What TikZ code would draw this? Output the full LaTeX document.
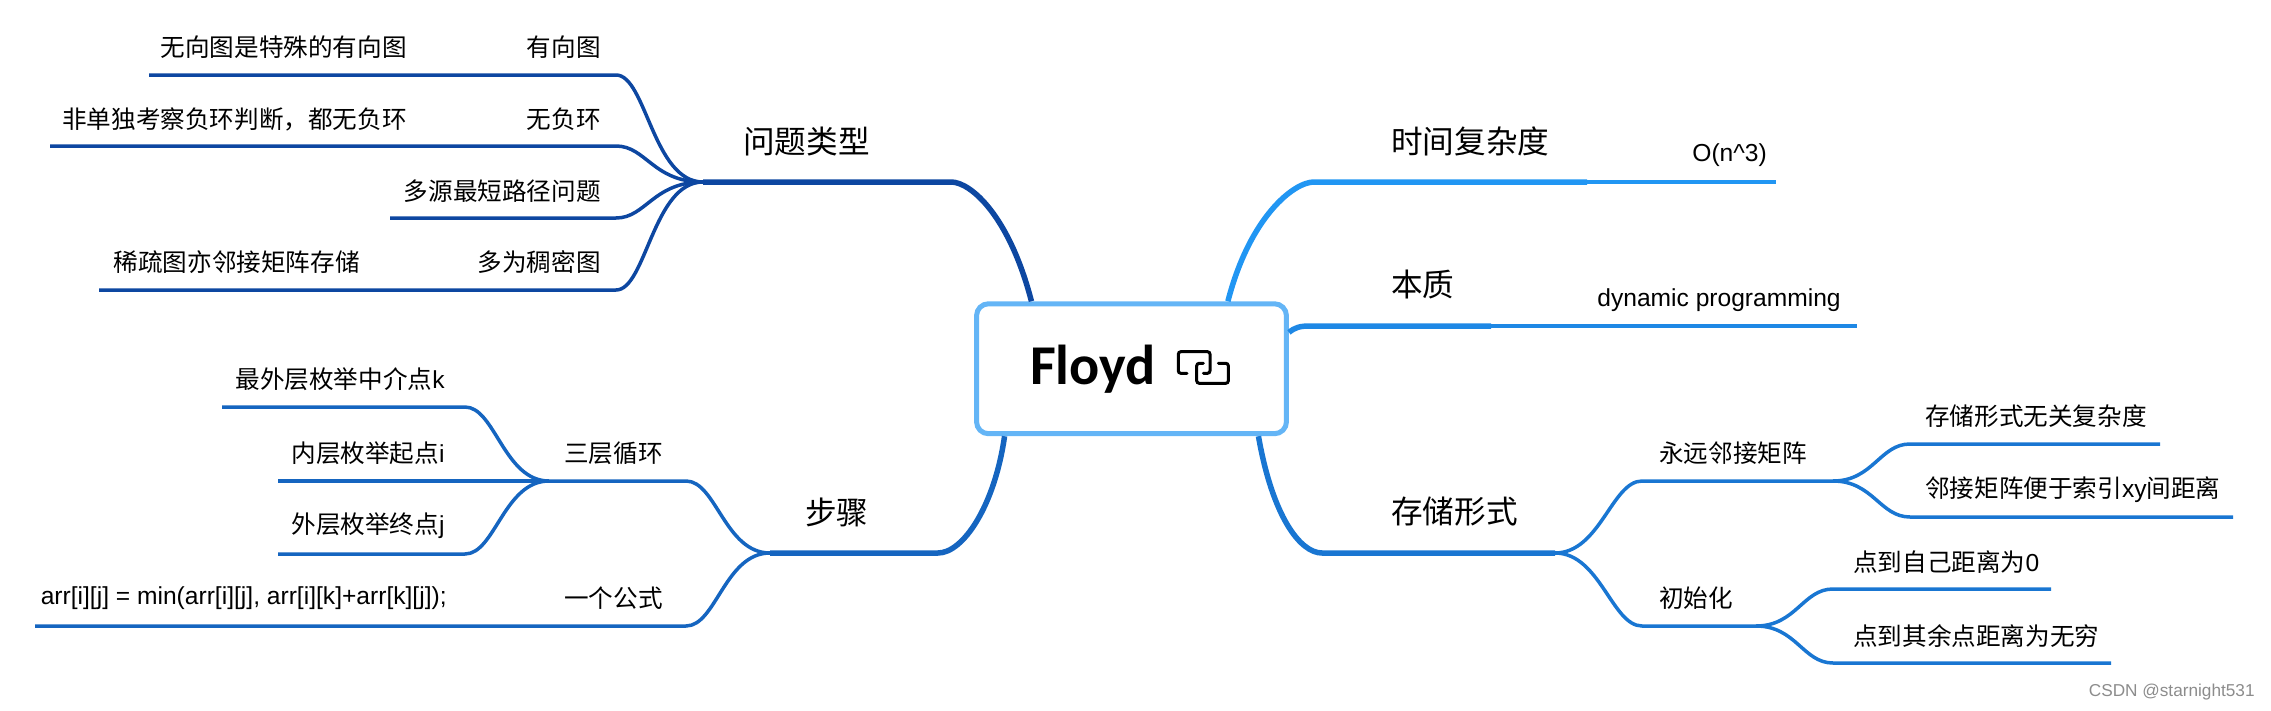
\documentclass[tikz,border=0pt]{standalone}
\usepackage{fontspec}
\setmainfont{Noto Sans CJK SC}
\newfontfamily\latinfont{Liberation Sans}
\newfontfamily\rootfont{Carlito}
\usepackage{xcolor}
\definecolor{rootblue}{HTML}{64B5F6}
\definecolor{typeblue}{HTML}{0D47A1}
\definecolor{stepblue}{HTML}{1565C0}
\definecolor{storeblue}{HTML}{1976D2}
\definecolor{coreblue}{HTML}{1E88E5}
\definecolor{timeblue}{HTML}{2196F3}
\tikzset{
    rootbox/.style={
        draw=rootblue, line width=0.1cm, rounded corners=0.24cm, fill=white,
        minimum width=6.2cm, minimum height=2.6cm, inner sep=0pt,
        font=\rootfont\bfseries\fontsize{32}{34}\selectfont
    },
    topic/.style={inner sep=0pt, font=\fontsize{18}{20}\selectfont},
    leaf/.style={inner sep=0pt, font=\fontsize{14}{16}\selectfont},
    main/.style={line width=0.11cm},
    branch/.style={line width=0.07cm}
}
\begin{document}
\begin{tikzpicture}[x=0.02cm,y=-0.02cm,line cap=butt]
\useasboundingbox (0,0) rectangle (2271,710);

% Root
\node[rootbox] (root) at (1131.5,368.75) {Floyd\kern1.54cm};
\draw[line width=0.06cm, rounded corners=0.05cm, line cap=round]
    (1187,373.3) -- (1178.3,373.3) -- (1178.3,351.7) -- (1210,351.7) -- (1210,373.3) -- (1203.3,373.3);
\draw[line width=0.06cm, rounded corners=0.05cm, line cap=round]
    (1203.3,363.3) -- (1196.7,363.3) -- (1196.7,383.3) -- (1228.3,383.3) -- (1228.3,363.3) -- (1218.3,363.3);

% Problem type
\node[topic, anchor=west] (kind) at (743,141) {问题类型};
\node[leaf, anchor=east] (kinda) at (601,47) {有向图};
\node[leaf, anchor=east] (kindaa) at (407,47) {无向图是特殊的有向图};
\node[leaf, anchor=east] (kindb) at (601,119) {无负环};
\node[leaf, anchor=east] (kindba) at (407,119) {非单独考察负环判断，都无负环};
\node[leaf, anchor=east] (kindc) at (601,191) {多源最短路径问题};
\node[leaf, anchor=east] (kindd) at (601,262) {多为稠密图};
\node[leaf, anchor=east] (kindda) at (360,262) {稀疏图亦邻接矩阵存储};

\coordinate (kindfan) at (703,182);
\coordinate (kindbend) at (951,182);
\coordinate (kindas) at (616,75);
\coordinate (kindae) at (149,75);
\coordinate (kindbs) at (616,146);
\coordinate (kindbe) at (50,146);
\coordinate (kindcs) at (616,218);
\coordinate (kindce) at (390,218);
\coordinate (kindds) at (616,290);
\coordinate (kindde) at (99,290);

\draw[main, typeblue] (root.146) .. controls +(-22,-85) and +(20,0) .. (kindbend) -- (kindfan);
\draw[branch, typeblue] (kindfan) .. controls +(-50,0) and +(30,0) .. (kindas) -- (kindae);
\draw[branch, typeblue] (kindfan) .. controls +(-50,0) and +(30,0) .. (kindbs) -- (kindbe);
\draw[branch, typeblue] (kindfan) .. controls +(-50,0) and +(30,0) .. (kindcs) -- (kindce);
\draw[branch, typeblue] (kindfan) .. controls +(-50,0) and +(30,0) .. (kindds) -- (kindde);

% Steps
\node[topic, anchor=west] (steps) at (805,512) {步骤};
\node[leaf, anchor=east] (stepa) at (663,453) {三层循环};
\node[leaf, anchor=east] (stepaa) at (445,379) {最外层枚举中介点{\latinfont k}};
\node[leaf, anchor=east] (stepab) at (445,453) {内层枚举起点{\latinfont i}};
\node[leaf, anchor=east] (stepac) at (445,526) {外层枚举终点{\latinfont j}};
\node[leaf, anchor=east] (stepb) at (663,598) {一个公式};
\node[leaf, anchor=east] (stepba) at (447,598) {\latinfont arr[i][j] = min(arr[i][j], arr[i][k]+arr[k][j]);};

\coordinate (stepfan) at (770,553);
\coordinate (stepbend) at (938,553);
\coordinate (stepas) at (686,481);
\coordinate (stepafan) at (549,481);
\coordinate (stepbs) at (686,626);
\coordinate (stepbe) at (35,626);
\coordinate (stepaas) at (465,407);
\coordinate (stepaae) at (222,407);
\coordinate (stepabe) at (278,481);
\coordinate (stepacs) at (465,554);
\coordinate (stepace) at (278,554);

\draw[main, stepblue] (root.208.5) .. controls +(-10,70) and +(25,0) .. (stepbend) -- (stepfan);
\draw[branch, stepblue] (stepfan) .. controls +(-45,0) and +(30,0) .. (stepas) -- (stepafan);
\draw[branch, stepblue] (stepfan) .. controls +(-45,0) and +(30,0) .. (stepbs) -- (stepbe);
\draw[branch, stepblue] (stepafan) .. controls +(-45,0) and +(30,0) .. (stepaas) -- (stepaae);
\draw[branch, stepblue] (stepafan) -- (stepabe);
\draw[branch, stepblue] (stepafan) .. controls +(-45,0) and +(30,0) .. (stepacs) -- (stepace);

% Time
\node[topic, anchor=west] (time) at (1391,141) {时间复杂度};
\node[leaf, anchor=west, font=\latinfont\fontsize{14}{16}\selectfont] (timea) at (1692,155) {O(n\^{}3)};
\coordinate (timebend) at (1314,182);
\coordinate (timeend) at (1587,182);
\coordinate (timeleaf) at (1776,182);
\draw[main, timeblue] (root.35.3) .. controls +(22,-85) and +(-20,0) .. (timebend) -- (timeend);
\draw[branch, timeblue] (timeend) -- (timeleaf);

% Core
\node[topic, anchor=west] (core) at (1391,284) {本质};
\node[leaf, anchor=west, font=\latinfont\fontsize{14}{16}\selectfont] (corea) at (1597,300) {dynamic programming};
\coordinate (corebend) at (1310,326);
\coordinate (coreend) at (1491,326);
\coordinate (coreleaf) at (1857,326);
\draw[main, coreblue] (root.13.3) .. controls +(6,-5) and +(-10,0) .. (corebend) -- (coreend);
\draw[branch, coreblue] (coreend) -- (coreleaf);

% Storage
\node[topic, anchor=west] (store) at (1391,512) {存储形式};
\node[leaf, anchor=west] (storea) at (1659,453) {永远邻接矩阵};
\node[leaf, anchor=west] (storeaa) at (1925,416) {存储形式无关复杂度};
\node[leaf, anchor=west] (storeab) at (1925,490) {邻接矩阵便于索引{\latinfont xy}间距离};
\node[leaf, anchor=west] (storeb) at (1659,598) {初始化};
\node[leaf, anchor=west] (storeba) at (1853,562) {点到自己距离为{\latinfont 0}};
\node[leaf, anchor=west] (storebb) at (1853,636) {点到其余点距离为无穷};

\coordinate (storebend) at (1322,553);
\coordinate (storefan) at (1555,553);
\coordinate (storeas) at (1642,481);
\coordinate (storeafan) at (1833,481);
\coordinate (storebs) at (1642,626);
\coordinate (storebfan) at (1756,626);
\coordinate (storeaas) at (1910,444);
\coordinate (storeaae) at (2160,444);
\coordinate (storeabs) at (1910,517);
\coordinate (storeabe) at (2233,517);
\coordinate (storebas) at (1833,589);
\coordinate (storebae) at (2051,589);
\coordinate (storebbs) at (1833,663);
\coordinate (storebbe) at (2111,663);

\draw[main, storeblue] (root.332.5) .. controls +(14,80) and +(-22,0) .. (storebend) -- (storefan);
\draw[branch, storeblue] (storefan) .. controls +(45,0) and +(-30,0) .. (storeas) -- (storeafan);
\draw[branch, storeblue] (storefan) .. controls +(45,0) and +(-30,0) .. (storebs) -- (storebfan);
\draw[branch, storeblue] (storeafan) .. controls +(40,0) and +(-30,0) .. (storeaas) -- (storeaae);
\draw[branch, storeblue] (storeafan) .. controls +(40,0) and +(-30,0) .. (storeabs) -- (storeabe);
\draw[branch, storeblue] (storebfan) .. controls +(40,0) and +(-30,0) .. (storebas) -- (storebae);
\draw[branch, storeblue] (storebfan) .. controls +(40,0) and +(-30,0) .. (storebbs) -- (storebbe);

% Watermark
\node[inner sep=0pt, anchor=east, text=black!45, font=\latinfont\fontsize{9.8}{11}\selectfont] (csdn) at (2255,692) {CSDN @starnight531};

\end{tikzpicture}
\end{document}
